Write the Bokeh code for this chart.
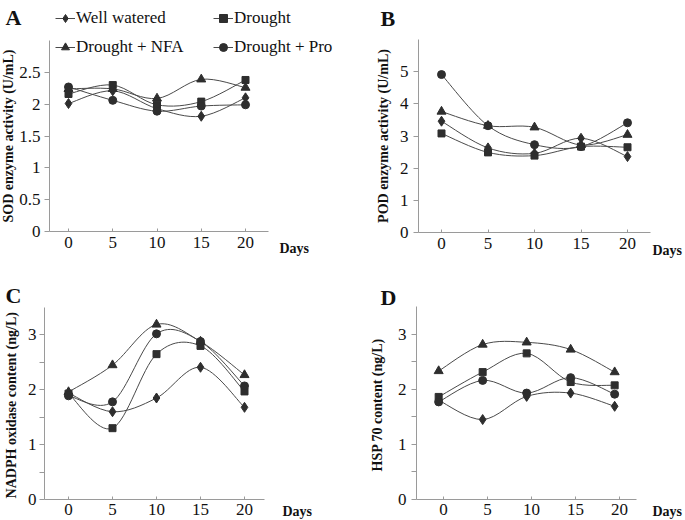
from bokeh.plotting import figure
from bokeh.models import (Range1d, FixedTicker, NumeralTickFormatter, Legend,
                          LegendItem, Label)
from bokeh.layouts import row, column
from bokeh.embed import file_html
from bokeh.resources import INLINE

# ---------------- data ----------------
days = [0, 5, 10, 15, 20]
series_names = ["Well watered", "Drought", "Drought + NFA", "Drought + Pro"]

sod_well = [2.01, 2.21, 1.93, 1.81, 2.10]
sod_drought = [2.16, 2.30, 1.99, 2.04, 2.38]
sod_nfa = [2.24, 2.24, 2.09, 2.39, 2.26]
sod_pro = [2.27, 2.06, 1.89, 1.97, 1.99]

pod_well = [3.46, 2.63, 2.46, 2.93, 2.36]
pod_drought = [3.08, 2.49, 2.39, 2.67, 2.65]
pod_nfa = [3.76, 3.32, 3.27, 2.72, 3.04]
pod_pro = [4.91, 3.32, 2.73, 2.67, 3.41]

nadph_well = [1.94, 1.60, 1.85, 2.41, 1.68]
nadph_drought = [1.93, 1.30, 2.65, 2.80, 1.97]
nadph_nfa = [1.96, 2.45, 3.19, 2.88, 2.27]
nadph_pro = [1.89, 1.78, 3.02, 2.88, 2.07]

hsp_well = [1.80, 1.45, 1.87, 1.93, 1.69]
hsp_drought = [1.86, 2.31, 2.65, 2.13, 2.07]
hsp_nfa = [2.33, 2.81, 2.85, 2.72, 2.31]
hsp_pro = [1.77, 2.16, 1.93, 2.21, 1.91]

x_tick_values = [0, 5, 10, 15, 20]
sod_ticks = [0, 0.5, 1, 1.5, 2, 2.5]
pod_ticks = [0, 1, 2, 3, 4, 5]
int_ticks = [0, 1, 2, 3]
half_ticks = [0.5, 1.5, 2.5]

# ---------------- styles ----------------
SERIF = "'Liberation Serif', 'Times New Roman', serif"
MARK_COLOR = "#2e2e2e"
LINE_COLOR = "#4a4a4a"
AXIS_COLOR = "#9a9a9a"
TEXT_COLOR = "#111111"
MARKERS = {
    "Well watered": ("diamond", 10),
    "Drought": ("square", 7),
    "Drought + NFA": ("triangle", 9),
    "Drought + Pro": ("circle", 8),
}


def bezier_parts(xs, ys):
    n = len(xs)
    out = {k: [] for k in ("x0", "y0", "x1", "y1", "cx0", "cy0", "cx1", "cy1")}
    for i in range(n - 1):
        a = max(i - 1, 0)
        d = min(i + 2, n - 1)
        out["x0"].append(xs[i]); out["y0"].append(ys[i])
        out["x1"].append(xs[i + 1]); out["y1"].append(ys[i + 1])
        out["cx0"].append(xs[i] + (xs[i + 1] - xs[a]) / 6.0)
        out["cy0"].append(ys[i] + (ys[i + 1] - ys[a]) / 6.0)
        out["cx1"].append(xs[i + 1] - (xs[d] - xs[i]) / 6.0)
        out["cy1"].append(ys[i + 1] - (ys[d] - ys[i]) / 6.0)
    return out


def make_panel(values, ylabel, yend, yticks, yminor, yfmt, g):
    # g holds page-pixel geometry: figure box, axis box, tick pixel positions
    X0, X1, Y0, Y1 = g["box"]
    fl, fr, ft, fb = g["axes"]
    t0, t20 = g["ticks"]
    ppx = (t20 - t0) / 20.0
    ppy = (fb - ft) / float(yend)
    xr = Range1d((X0 - t0) / ppx, (X1 - t0) / ppx)
    yr = Range1d((fb - Y1) / ppy, (fb - Y0) / ppy)
    p = figure(width=X1 - X0, height=Y1 - Y0, x_range=xr, y_range=yr,
               min_border=0, output_backend="svg", toolbar_location=None)
    p.outline_line_color = None
    p.grid.visible = False
    p.background_fill_color = "white"
    p.border_fill_color = "white"

    x_left = (fl - t0) / ppx
    x_right = (fr - t0) / ppx

    for ax in (p.xaxis[0], p.yaxis[0]):
        ax.axis_line_color = AXIS_COLOR
        ax.major_tick_line_color = AXIS_COLOR
        ax.minor_tick_line_color = AXIS_COLOR
        ax.major_label_text_font = SERIF
        ax.major_label_text_font_size = "17px"
        ax.major_label_text_color = TEXT_COLOR

    xa = p.xaxis[0]
    xa.fixed_location = 0
    xa.bounds = (x_left, x_right)
    xa.ticker = FixedTicker(ticks=x_tick_values)
    xa.formatter = NumeralTickFormatter(format="0")
    xa.major_tick_in = 3
    xa.major_tick_out = 0
    xa.minor_tick_line_color = None
    xa.major_label_standoff = g["xstand"]

    ya = p.yaxis[0]
    ya.fixed_location = x_left
    ya.bounds = (0, yend)
    ya.ticker = FixedTicker(ticks=yticks, minor_ticks=yminor)
    ya.formatter = NumeralTickFormatter(format=yfmt)
    ya.major_tick_in = 0
    ya.major_tick_out = 5
    ya.minor_tick_in = 0
    ya.minor_tick_out = 5
    ya.major_label_standoff = g["ystand"]
    ya.axis_label = ylabel
    ya.axis_label_text_font = SERIF
    ya.axis_label_text_font_style = "bold"
    ya.axis_label_text_font_size = "14px"
    ya.axis_label_text_color = TEXT_COLOR
    ya.axis_label_standoff = g["lstand"]

    xs = [d + g["shift"] for d in days]
    rends = {}
    for name, ys in zip(series_names, values):
        parts = bezier_parts(xs, ys)
        br = p.bezier(x0=parts["x0"], y0=parts["y0"], x1=parts["x1"], y1=parts["y1"],
                      cx0=parts["cx0"], cy0=parts["cy0"], cx1=parts["cx1"], cy1=parts["cy1"],
                      line_color=LINE_COLOR, line_width=1)
        rends[name] = [br]
    for name, ys in zip(series_names, values):
        mk, sz = MARKERS[name]
        sr = p.scatter(x=xs, y=ys, marker=mk, size=sz, fill_color=MARK_COLOR,
                       line_color=MARK_COLOR)
        rends[name].append(sr)

    # panel letter
    lx, lb = g["letter"]
    p.add_layout(Label(x=(lx - t0) / ppx, y=(fb - lb) / ppy,
                       text=g["name"], text_font=SERIF, text_font_style="bold",
                       text_font_size="22px", text_color=TEXT_COLOR,
                       text_baseline="alphabetic", text_align="left"))
    # Days label
    dx, db = g["days"]
    p.add_layout(Label(x=(dx - t0) / ppx, y=(fb - db) / ppy,
                       text="Days", text_font=SERIF, text_font_style="bold",
                       text_font_size="14px", text_color=TEXT_COLOR,
                       text_baseline="alphabetic", text_align="left"))
    return p, rends


gA = dict(name="A", box=(0, 340, 0, 262), axes=(49, 268, 40, 231), ticks=(68, 245),
          shift=0.0, xstand=5, ystand=4, lstand=0, letter=(5, 17), days=(279, 248))
gB = dict(name="B", box=(340, 685, 0, 262), axes=(418, 650, 39, 232), ticks=(441, 627),
          shift=0.0, xstand=5, ystand=5, lstand=6, letter=(380, 18), days=(652, 250))
gC = dict(name="C", box=(0, 340, 262, 520), axes=(44, 264, 307, 499), ticks=(68, 244),
          shift=0.0, xstand=4, ystand=3, lstand=6, letter=(5, 295), days=(282, 511))
gD = dict(name="D", box=(340, 685, 262, 520), axes=(416, 636, 306, 499), ticks=(443, 619),
          shift=-0.55, xstand=4, ystand=5, lstand=10, letter=(380, 297), days=(652, 511))

pA, rA = make_panel([sod_well, sod_drought, sod_nfa, sod_pro], "SOD enzyme activity (U/mL)",
                    3, sod_ticks, [], "0.[0]", gA)
pB, rB = make_panel([pod_well, pod_drought, pod_nfa, pod_pro], "POD enzyme activity (U/mL)",
                    6, pod_ticks, [], "0", gB)
pC, rC = make_panel([nadph_well, nadph_drought, nadph_nfa, nadph_pro],
                    "NADPH oxidase  content (ng/L)", 3.5, int_ticks, half_ticks, "0", gC)
pD, rD = make_panel([hsp_well, hsp_drought, hsp_nfa, hsp_pro],
                    "HSP 70  content (ng/L)", 3.5, int_ticks, half_ticks, "0", gD)

# legends (above panel A's axes), positioned from the figure's bottom-left
X0, X1, Y0, Y1 = gA["box"]
for col_x, names in ((55, ["Well watered", "Drought + NFA"]), (213, ["Drought", "Drought + Pro"])):
    leg = Legend(items=[LegendItem(label=n, renderers=rA[n]) for n in names],
                 location=(col_x - X0, Y1 - 57), orientation="vertical",
                 glyph_width=20, glyph_height=20, label_height=20, spacing=9,
                 padding=0, margin=0, label_standoff=1,
                 label_text_font=SERIF, label_text_font_size="17px",
                 label_text_color=TEXT_COLOR,
                 border_line_color=None, background_fill_alpha=0)
    pA.add_layout(leg)

layout = column(row(pA, pB), row(pC, pD))

html = file_html(layout, INLINE)
open("out.html", "w").write(html)
